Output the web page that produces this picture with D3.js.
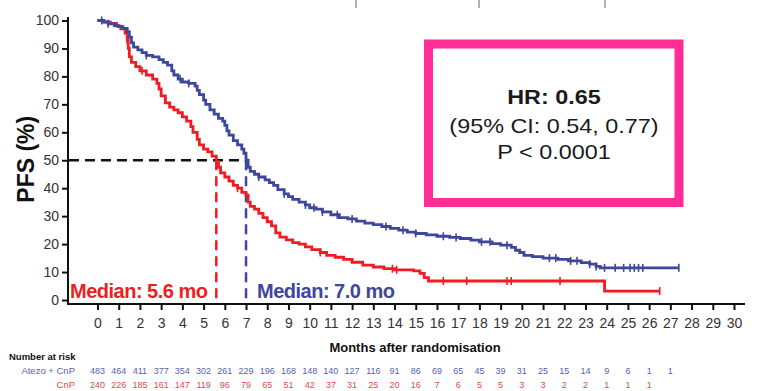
<!DOCTYPE html>
<html>
<head>
<meta charset="utf-8">
<script src="https://cdn.jsdelivr.net/npm/d3@7"></script>
<style>
  body { margin: 0; background: #fff; }
  svg { display: block; font-family: "Liberation Sans", Arial, sans-serif; }
</style>
</head>
<body>
<div id="chart"></div>
<script>
// Kaplan-Meier PFS curves: [months, PFS %]
const atezoSteps = [
    [0, 100], [0.3, 99.4], [0.5, 98.8], [0.8, 98.2], [1.0, 97.8], [1.2, 97.2], [1.4, 96],
    [1.5, 94], [1.6, 92], [1.7, 90.5], [1.9, 89.5], [2.1, 88.5], [2.3, 87.5], [2.6, 87],
    [2.9, 86], [3.1, 85], [3.3, 84], [3.5, 82], [3.6, 80.5], [3.8, 79], [4.0, 78],
    [4.3, 77.5], [4.6, 76.5], [4.7, 75], [4.8, 73.5], [5.0, 71.5], [5.1, 70], [5.3, 68],
    [5.5, 66.5], [5.7, 65], [5.9, 64], [6.0, 62.5], [6.1, 60.5], [6.2, 59], [6.4, 57],
    [6.6, 55.5], [6.8, 54], [6.9, 52.5], [7.0, 50], [7.1, 47.5], [7.2, 46], [7.4, 45],
    [7.6, 44], [7.9, 43], [8.1, 42], [8.3, 41], [8.5, 39.5], [8.8, 38], [9.0, 37],
    [9.2, 36], [9.5, 35], [9.8, 34], [10.0, 33], [10.3, 32.5], [10.6, 31.5], [11.0, 30.5],
    [11.4, 29.5], [11.8, 29], [12.2, 28.2], [12.6, 27.5], [13.0, 27], [13.4, 26.3],
    [13.8, 25.6], [14.2, 25], [14.6, 24.3], [15.0, 23.8], [15.5, 23.3], [16.0, 22.8],
    [16.6, 22.4], [17.1, 22], [17.6, 21.4], [18.0, 20.8], [18.6, 20.2], [19.0, 19.6],
    [19.5, 18.8], [19.7, 17.8], [19.9, 17], [20.1, 16], [20.5, 15.5], [21.0, 15],
    [21.7, 14.5], [22.2, 14], [22.8, 13.4], [23.2, 12.8], [23.5, 12], [23.7, 11.5], [27.4, 11.5]
];
const cnpSteps = [
    [0, 100], [0.3, 99.5], [0.6, 99], [0.9, 98], [1.1, 97], [1.3, 95.5], [1.4, 93],
    [1.45, 90], [1.5, 87], [1.6, 85], [1.8, 83.5], [2.0, 82], [2.3, 80.5], [2.6, 79],
    [2.8, 77.5], [2.9, 75.5], [3.0, 73], [3.2, 70.5], [3.4, 69], [3.6, 68], [3.8, 67],
    [4.0, 65.5], [4.2, 64], [4.4, 62], [4.5, 60], [4.7, 57.5], [4.8, 55.5], [5.0, 54],
    [5.2, 53], [5.4, 51.5], [5.6, 49.5], [5.7, 47.5], [5.8, 45.5], [6.0, 44], [6.2, 42.5],
    [6.4, 41], [6.6, 40], [6.8, 38.5], [7.0, 37.5], [7.1, 35], [7.2, 33.5], [7.4, 32.5],
    [7.6, 31], [7.8, 29.5], [8.0, 28], [8.2, 26.5], [8.4, 24], [8.6, 22.5], [8.9, 21.5],
    [9.2, 20.5], [9.5, 20], [9.8, 19], [10.1, 18], [10.5, 17], [10.8, 16], [11.2, 15.3],
    [11.6, 14.5], [12.0, 13.5], [12.5, 12.5], [13.0, 11.8], [13.5, 11.2], [14.0, 10.8],
    [14.9, 10.4], [15.2, 9.5], [15.4, 8], [15.6, 6.8], [23.8, 6.8], [23.9, 3.2], [26.5, 3.2]
];

// censor marks (months)
const atezoCensor = [0.2, 0.5, 2.3, 3.9, 4.3, 7.6, 8.8, 9.8, 10.2, 10.6, 11.3, 12.0, 13.6,
    14.4, 15.0, 16.3, 16.9, 18.1, 18.5, 19.3, 21.3, 21.6, 22.3, 22.6, 23.2, 23.5, 23.9,
    24.4, 24.8, 25.1, 25.3, 25.5, 25.7, 27.4];
const cnpCensor = [1.4, 2.1, 6.6, 10.5, 13.9, 14.1, 16.3, 17.4, 19.3, 19.5, 21.8, 26.5];

// medians
const medianCnp = 5.6;
const medianAtezo = 7.0;

// number at risk
const riskMonths = d3.range(0, 28);
const atezoRisk = [483, 464, 411, 377, 354, 302, 261, 229, 196, 168, 148, 140, 127, 116, 91,
    86, 69, 65, 45, 39, 31, 25, 15, 14, 9, 6, 1, 1];
const cnpRisk = [240, 226, 185, 161, 147, 119, 96, 79, 65, 51, 42, 37, 31, 25, 20, 16, 7, 6,
    5, 5, 3, 3, 2, 2, 1, 1, 1];

const xTicks = d3.range(0, 31);
const yTicks = d3.range(0, 101, 10);

const hrLines = ['HR: 0.65', '(95% CI: 0.54, 0.77)', 'P < 0.0001'];

const blue = '#3d479c';
const red = '#ee1d23';
const font = '"Liberation Sans", Arial, sans-serif';

const width = 759, height = 391;
const svg = d3.select('#chart').append('svg')
    .attr('width', width)
    .attr('height', height);

const x = d3.scaleLinear().domain([0, 30]).range([97.5, 734]);
const y = d3.scaleLinear().domain([0, 100]).range([300, 20.5]);
const axisLeftX = 68, axisBottomY = 304;

// faint marks from a cropped table at the very top
svg.selectAll('.topmark')
    .data([356, 479, 605])
    .join('line')
    .attr('x1', d => d).attr('x2', d => d)
    .attr('y1', 0).attr('y2', 8)
    .attr('stroke', '#9a9a9a')
    .attr('stroke-width', 1.5);

// Y axis
const yAxis = svg.append('g')
    .attr('transform', `translate(${axisLeftX},0)`)
    .call(d3.axisLeft(y).tickValues(yTicks).tickSize(6).tickPadding(3))
    .call(g => g.select('.domain').remove());
yAxis.selectAll('line').attr('stroke', '#111').attr('stroke-width', 2);
yAxis.selectAll('text').attr('fill', '#333').style('font-size', '14px')
    .style('font-family', font);
svg.append('line')
    .attr('x1', axisLeftX).attr('x2', axisLeftX)
    .attr('y1', 17).attr('y2', axisBottomY + 1)
    .attr('stroke', '#111').attr('stroke-width', 2);

// X axis
const xAxis = svg.append('g')
    .attr('transform', `translate(0,${axisBottomY})`)
    .call(d3.axisBottom(x).tickValues(xTicks).tickSize(6).tickPadding(8))
    .call(g => g.select('.domain').remove());
xAxis.selectAll('line').attr('stroke', '#111').attr('stroke-width', 2);
xAxis.selectAll('text').attr('fill', '#333').style('font-size', '14px')
    .style('font-family', font);
svg.append('line')
    .attr('x1', axisLeftX - 1).attr('x2', 745)
    .attr('y1', axisBottomY).attr('y2', axisBottomY)
    .attr('stroke', '#111').attr('stroke-width', 2);

// axis titles
svg.append('text')
    .attr('transform', `translate(34,${y(50) - 1}) rotate(-90)`)
    .attr('text-anchor', 'middle')
    .style('font-size', '23px')
    .style('font-weight', 'bold')
    .attr('fill', '#111')
    .text('PFS (%)');

svg.append('text')
    .attr('x', 415).attr('y', 352)
    .attr('text-anchor', 'middle')
    .style('font-size', '13px')
    .style('font-weight', 'bold')
    .attr('fill', '#111')
    .text('Months after randomisation');

// median reference lines
svg.append('line')
    .attr('x1', axisLeftX + 1).attr('x2', x(medianAtezo))
    .attr('y1', y(50)).attr('y2', y(50))
    .attr('stroke', '#111').attr('stroke-width', 2.5)
    .attr('stroke-dasharray', '10 6');
svg.append('line')
    .attr('x1', x(medianCnp)).attr('x2', x(medianCnp))
    .attr('y1', y(50)).attr('y2', axisBottomY)
    .attr('stroke', red).attr('stroke-width', 2.5)
    .attr('stroke-dasharray', '10 6');
svg.append('line')
    .attr('x1', x(medianAtezo)).attr('x2', x(medianAtezo))
    .attr('y1', y(50)).attr('y2', axisBottomY)
    .attr('stroke', blue).attr('stroke-width', 2.5)
    .attr('stroke-dasharray', '10 6');

// KM curves
const line = d3.line()
    .x(d => x(d[0]))
    .y(d => y(d[1]))
    .curve(d3.curveStepAfter);

function valueAt(steps, t) {
    const i = d3.bisector(d => d[0]).right(steps, t) - 1;
    return steps[Math.max(0, i)][1];
}

function drawCurve(steps, censor, color) {
    svg.append('path')
        .datum(steps)
        .attr('fill', 'none')
        .attr('stroke', color)
        .attr('stroke-width', 2.8)
        .attr('d', line);
    svg.append('g').selectAll('line')
        .data(censor)
        .join('line')
        .attr('x1', d => x(d)).attr('x2', d => x(d))
        .attr('y1', d => y(valueAt(steps, d)) - 4)
        .attr('y2', d => y(valueAt(steps, d)) + 4)
        .attr('stroke', color)
        .attr('stroke-width', 1.6);
}

drawCurve(cnpSteps, cnpCensor, red);
drawCurve(atezoSteps, atezoCensor, blue);

// median labels
svg.append('text')
    .attr('x', 70).attr('y', 298)
    .style('font-size', '20px').style('font-weight', 'bold')
    .style('letter-spacing', '-0.5px')
    .attr('fill', red)
    .text(`Median: ${medianCnp.toFixed(1)} mo`);
svg.append('text')
    .attr('x', 257).attr('y', 298)
    .style('font-size', '20px').style('font-weight', 'bold')
    .style('letter-spacing', '-0.5px')
    .attr('fill', blue)
    .text(`Median: ${medianAtezo.toFixed(1)} mo`);

// HR box
svg.append('rect')
    .attr('x', 428.5).attr('y', 44)
    .attr('width', 250.5).attr('height', 158.5)
    .attr('fill', '#fff')
    .attr('stroke', '#ff2d95')
    .attr('stroke-width', 9);
svg.selectAll('.hr')
    .data(hrLines)
    .join('text')
    .attr('class', 'hr')
    .attr('transform', (d, i) => `translate(554,${[104, 133, 159][i]}) scale(1.17,1)`)
    .attr('text-anchor', 'middle')
    .style('font-size', '20px')
    .style('font-weight', (d, i) => i === 0 ? 'bold' : 'normal')
    .attr('fill', '#1a1a1a')
    .text(d => d);

// number at risk table
svg.append('text')
    .attr('x', 9).attr('y', 360)
    .style('font-size', '9.5px').style('font-weight', 'bold')
    .attr('fill', '#111')
    .text('Number at risk');
svg.append('text')
    .attr('x', 75).attr('y', 374)
    .attr('text-anchor', 'end')
    .style('font-size', '9.5px')
    .attr('fill', '#5a60ae')
    .text('Atezo + CnP');
svg.append('text')
    .attr('x', 75).attr('y', 388)
    .attr('text-anchor', 'end')
    .style('font-size', '9.5px')
    .attr('fill', '#e8474b')
    .text('CnP');

svg.append('g').selectAll('text')
    .data(atezoRisk)
    .join('text')
    .attr('x', (d, i) => x(riskMonths[i]))
    .attr('y', 374)
    .attr('text-anchor', 'middle')
    .style('font-size', '9px')
    .attr('fill', '#5a60ae')
    .text(d => d);
svg.append('g').selectAll('text')
    .data(cnpRisk)
    .join('text')
    .attr('x', (d, i) => x(riskMonths[i]))
    .attr('y', 388)
    .attr('text-anchor', 'middle')
    .style('font-size', '9px')
    .attr('fill', '#e8474b')
    .text(d => d);
</script>
</body>
</html>
